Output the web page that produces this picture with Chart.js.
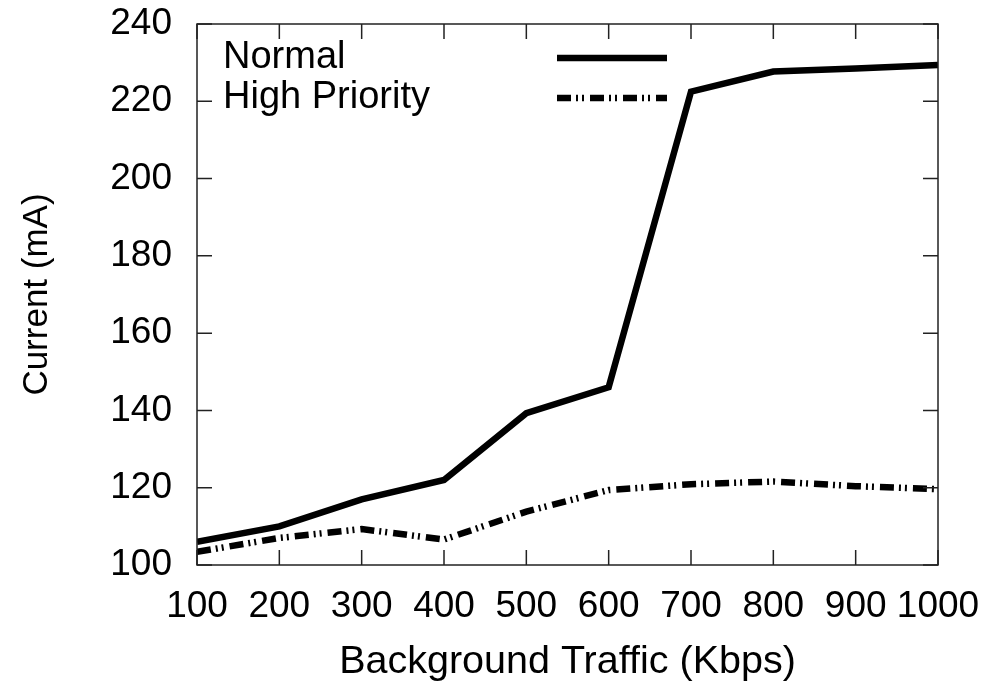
<!DOCTYPE html>
<html>
<head>
<meta charset="utf-8">
<script src="https://cdn.jsdelivr.net/npm/chart.js@4/dist/chart.umd.min.js"></script>
<style>
html,body{margin:0;padding:0;background:#fff;}
#wrap{width:994px;height:686px;position:relative;}
</style>
</head>
<body>
<div id="wrap"><canvas id="c" width="994" height="686"></canvas></div>
<script>
// ---- data ----
const trafficKbps = [100, 200, 300, 400, 500, 600, 700, 800, 900, 1000];
const normalCurrent = [106, 110, 117, 122, 139.3, 146, 222.5, 227.7, 228.5, 229.4];
const highPriorityCurrent = [103.4, 107, 109.3, 106.6, 113.8, 119.4, 120.9, 121.6, 120.4, 119.6];
const seriesLabels = ['Normal', 'High Priority'];
const xTicks = [100, 200, 300, 400, 500, 600, 700, 800, 900, 1000];
const yTicks = [100, 120, 140, 160, 180, 200, 220, 240];
const xTitle = 'Background Traffic (Kbps)';
const yTitle = 'Current (mA)';

const FONT = "'Liberation Sans', Arial, Helvetica, sans-serif";
const dashHP = [14, 5, 2, 4, 2, 6];

const toPts = (ys) => trafficKbps.map((x, i) => ({x: x, y: ys[i]}));

const frameAndTicks = {
  id: 'frameAndTicks',
  afterDatasetsDraw(chart) {
    const {ctx, chartArea: a, scales} = chart;
    const xs = scales.x, ys = scales.y;
    const L = 15;
    ctx.save();
    ctx.strokeStyle = '#222';
    ctx.lineWidth = 1.5;
    ctx.beginPath();
    xTicks.forEach(v => {
      const px = xs.getPixelForValue(v);
      ctx.moveTo(px, a.bottom); ctx.lineTo(px, a.bottom - L);
      ctx.moveTo(px, a.top); ctx.lineTo(px, a.top + L);
    });
    yTicks.forEach(v => {
      const py = ys.getPixelForValue(v);
      ctx.moveTo(a.left, py); ctx.lineTo(a.left + L, py);
      ctx.moveTo(a.right, py); ctx.lineTo(a.right - L, py);
    });
    ctx.stroke();
    ctx.strokeRect(a.left, a.top, a.right - a.left, a.bottom - a.top);
    ctx.restore();
  },
  afterDraw(chart) {
    // gnuplot-style key: text at left, line sample at right
    const {ctx} = chart;
    const rows = [58, 98];
    ctx.save();
    chart.data.datasets.forEach((ds, i) => {
      const y = rows[i];
      ctx.fillStyle = '#000';
      ctx.font = '38px ' + FONT;
      ctx.textBaseline = 'middle';
      ctx.textAlign = 'left';
      ctx.fillText(ds.label, 223, y);
      ctx.strokeStyle = ds.borderColor;
      ctx.lineWidth = ds.borderWidth;
      ctx.lineCap = 'butt';
      ctx.setLineDash(ds.borderDash || []);
      ctx.beginPath();
      ctx.moveTo(557, y);
      ctx.lineTo(667, y);
      ctx.stroke();
      ctx.setLineDash([]);
    });
    ctx.restore();
  }
};

new Chart(document.getElementById('c'), {
  type: 'line',
  data: {
    datasets: [
      {
        label: seriesLabels[0],
        data: toPts(normalCurrent),
        borderColor: '#000',
        borderWidth: 6.5,
        borderJoinStyle: 'miter',
        pointRadius: 0,
        tension: 0,
        fill: false
      },
      {
        label: seriesLabels[1],
        data: toPts(highPriorityCurrent),
        borderColor: '#000',
        borderWidth: 6.5,
        borderDash: dashHP,
        borderCapStyle: 'butt',
        borderJoinStyle: 'miter',
        pointRadius: 0,
        tension: 0,
        fill: false
      }
    ]
  },
  options: {
    responsive: false,
    animation: false,
    devicePixelRatio: 1,
    layout: {padding: {top: 24, right: 56, left: 0, bottom: 0}},
    plugins: {legend: {display: false}, tooltip: {enabled: false}},
    scales: {
      x: {
        type: 'linear',
        min: 100, max: 1000,
        afterBuildTicks: (s) => { s.ticks = xTicks.map(v => ({value: v})); },
        afterFit: (s) => { s.height = 121; s.paddingLeft = 0; s.paddingRight = 0; s.paddingTop = 0; s.paddingBottom = 0; },
        grid: {display: false, drawTicks: false},
        border: {display: false},
        ticks: {
          color: '#000',
          padding: 20,
          maxRotation: 0,
          autoSkip: false,
          font: {family: FONT, size: 37},
          callback: (v) => String(v)
        },
        title: {
          display: true, text: xTitle, color: '#000',
          font: {family: FONT, size: 39.5},
          padding: {top: 0, bottom: 0}
        }
      },
      y: {
        type: 'linear',
        min: 100, max: 240,
        afterBuildTicks: (s) => { s.ticks = yTicks.map(v => ({value: v})); },
        afterFit: (s) => { s.width = 197; s.paddingLeft = 0; s.paddingRight = 0; s.paddingTop = 0; s.paddingBottom = 0; },
        grid: {display: false, drawTicks: false},
        border: {display: false},
        ticks: {
          color: '#000',
          padding: 25,
          autoSkip: false,
          font: {family: FONT, size: 37},
          callback: (v) => String(v)
        },
        title: {
          display: true, text: yTitle, color: '#000',
          font: {family: FONT, size: 35},
          padding: {top: 16, bottom: 0}
        }
      }
    }
  },
  plugins: [frameAndTicks]
});
</script>
</body>
</html>
